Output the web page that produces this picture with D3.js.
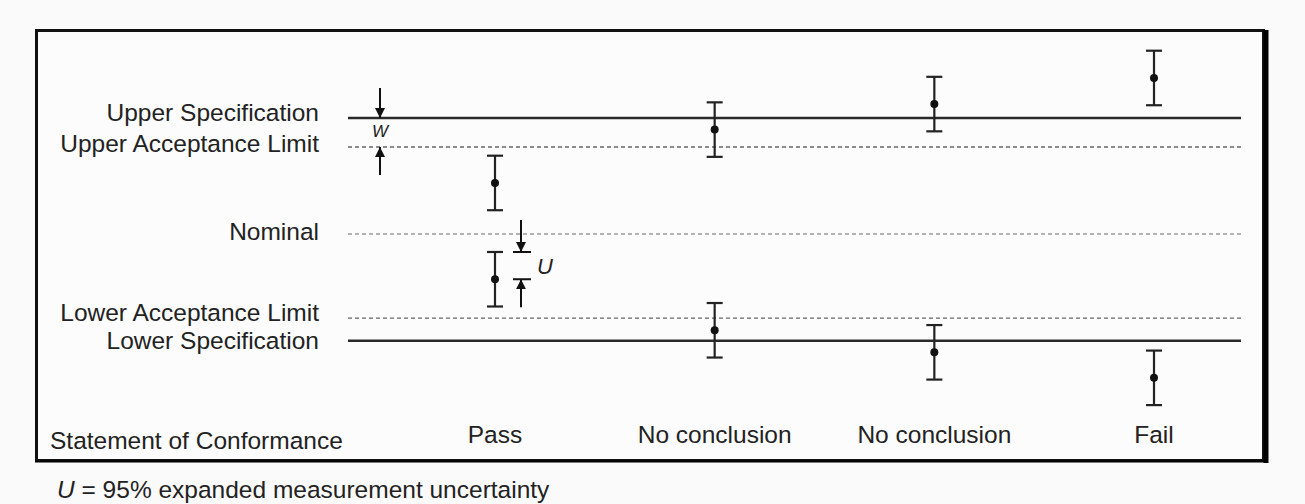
<!DOCTYPE html>
<html>
<head>
<meta charset="utf-8">
<script src="https://cdn.jsdelivr.net/npm/d3@7"></script>
<style>
  body { margin: 0; background: #fafafa; }
  svg { display: block; font-family: "Liberation Sans", Arial, sans-serif; }
</style>
</head>
<body>
<div id="chart"></div>
<script>

// limit lines (value units, nominal = 0)
var limitNames = ["Upper Specification", "Upper Acceptance Limit", "Nominal", "Lower Acceptance Limit", "Lower Specification"];
var limitValues = [10, 7.5, 0, -7.25, -9.2];
var limitKinds = ["spec", "accept", "nominal", "accept", "spec"];

// one column per statement, each with an upper and a lower measurement
var statements = ["Pass", "No conclusion", "No conclusion", "Fail"];
var upperValues = [4.4, 9.0, 11.2, 13.45];
var lowerValues = [-3.9, -8.3, -10.2, -12.4];
var uncertainty = 2.35;   // U, half-length of each error bar

var svgWidth = 1305, svgHeight = 504;
var plotLeft = 348, plotRight = 1241;
var fontSize = 24.5;

// small vertical nudges so the stacked limit labels don't collide
var labelNudge = [-2, 0, 1, -2, 3];

var svg = d3.select("#chart").append("svg")
    .attr("width", svgWidth)
    .attr("height", svgHeight);

var x = d3.scalePoint()
    .domain(d3.range(statements.length))
    .range([495, 1154]);

var y = d3.scaleLinear()
    .domain([-10, 10])
    .range([350, 118]);

// frame
svg.append("rect")
    .attr("x", 36.5).attr("y", 30.5)
    .attr("width", 1227).attr("height", 430)
    .attr("fill", "#fcfcfc")
    .attr("stroke", "#111")
    .attr("stroke-width", 3);
svg.append("line")
    .attr("x1", 1266).attr("x2", 1266)
    .attr("y1", 30).attr("y2", 463)
    .attr("stroke", "#000").attr("stroke-width", 5);
svg.append("line")
    .attr("x1", 35).attr("x2", 1268)
    .attr("y1", 461.5).attr("y2", 461.5)
    .attr("stroke", "#000").attr("stroke-width", 2);

var limits = limitNames.map(function(n, i) {
    return { name: n, value: limitValues[i], kind: limitKinds[i], nudge: labelNudge[i] };
});

svg.selectAll(".limit")
    .data(limits)
    .enter().append("line")
    .attr("class", "limit")
    .attr("x1", plotLeft).attr("x2", plotRight)
    .attr("y1", function(d) { return y(d.value); })
    .attr("y2", function(d) { return y(d.value); })
    .attr("stroke", function(d) { return d.kind == "spec" ? "#2a2a2a" : d.kind == "accept" ? "#666" : "#999"; })
    .attr("stroke-width", function(d) { return d.kind == "spec" ? 2.5 : 1.3; })
    .attr("stroke-dasharray", function(d) { return d.kind == "spec" ? null : "4,3"; });

svg.selectAll(".limit-label")
    .data(limits)
    .enter().append("text")
    .attr("class", "limit-label")
    .attr("x", 319)
    .attr("y", function(d) { return y(d.value) + 5 + d.nudge; })
    .attr("text-anchor", "end")
    .attr("font-size", fontSize)
    .attr("fill", "#222")
    .text(function(d) { return d.name; });

// measurements with uncertainty bars
var points = [];
statements.forEach(function(s, i) {
    points.push({ col: i, value: upperValues[i] });
    points.push({ col: i, value: lowerValues[i] });
});

var bars = svg.selectAll(".bar")
    .data(points)
    .enter().append("g")
    .attr("class", "bar")
    .attr("transform", function(d) { return "translate(" + x(d.col) + ",0)"; });

bars.append("line")
    .attr("y1", function(d) { return y(d.value + uncertainty); })
    .attr("y2", function(d) { return y(d.value - uncertainty); })
    .attr("stroke", "#222").attr("stroke-width", 2.2);

[1, -1].forEach(function(sign) {
    bars.append("line")
        .attr("x1", -8).attr("x2", 8)
        .attr("y1", function(d) { return y(d.value + sign * uncertainty); })
        .attr("y2", function(d) { return y(d.value + sign * uncertainty); })
        .attr("stroke", "#222").attr("stroke-width", 2.2);
});

bars.append("circle")
    .attr("cy", function(d) { return y(d.value); })
    .attr("r", 4)
    .attr("fill", "#111");

// statement row
svg.append("text")
    .attr("x", 50).attr("y", 449)
    .attr("font-size", fontSize).attr("fill", "#222")
    .text("Statement of Conformance");

svg.selectAll(".statement")
    .data(statements)
    .enter().append("text")
    .attr("class", "statement")
    .attr("x", function(d, i) { return x(i); })
    .attr("y", 443)
    .attr("text-anchor", "middle")
    .attr("font-size", fontSize).attr("fill", "#222")
    .text(function(d) { return d; });

// arrow marker
var defs = svg.append("defs");
defs.append("marker")
    .attr("id", "head")
    .attr("viewBox", "0 0 10 10")
    .attr("refX", 10).attr("refY", 5)
    .attr("markerWidth", 10).attr("markerHeight", 12)
    .attr("markerUnits", "userSpaceOnUse")
    .attr("orient", "auto")
    .append("path")
    .attr("d", "M0,0L10,5L0,10Z")
    .attr("fill", "#111");

function arrow(ax, from, to) {
    svg.append("line")
        .attr("x1", ax).attr("x2", ax)
        .attr("y1", from).attr("y2", to)
        .attr("stroke", "#111").attr("stroke-width", 2)
        .attr("marker-end", "url(#head)");
}

// W: guard band between specification and acceptance limit
var wx = 380;
arrow(wx, y(limitValues[0]) - 30, y(limitValues[0]));
arrow(wx, y(limitValues[1]) + 28, y(limitValues[1]));
svg.append("text")
    .attr("x", wx).attr("y", y(limitValues[0]) + 19)
    .attr("text-anchor", "middle")
    .attr("font-size", 17).attr("font-style", "italic").attr("fill", "#222")
    .text("W");

// U: expanded uncertainty on the lower Pass bar
var ux = 521;
var uTop = y(lowerValues[0] + uncertainty), uMid = y(lowerValues[0]);
arrow(ux, uTop - 32, uTop);
arrow(ux, uMid + 28, uMid);
[uTop, uMid].forEach(function(v) {
    svg.append("line")
        .attr("x1", ux - 8).attr("x2", ux + 10)
        .attr("y1", v).attr("y2", v)
        .attr("stroke", "#111").attr("stroke-width", 2);
});
svg.append("text")
    .attr("x", ux + 16).attr("y", (uTop + uMid) / 2 + 8)
    .attr("font-size", 22).attr("font-style", "italic").attr("fill", "#222")
    .text("U");

// footnote
var note = svg.append("text")
    .attr("x", 57).attr("y", 498)
    .attr("font-size", fontSize).attr("fill", "#222");
note.append("tspan").attr("font-style", "italic").text("U");
note.append("tspan").text(" = 95% expanded measurement uncertainty");

</script>
</body>
</html>
